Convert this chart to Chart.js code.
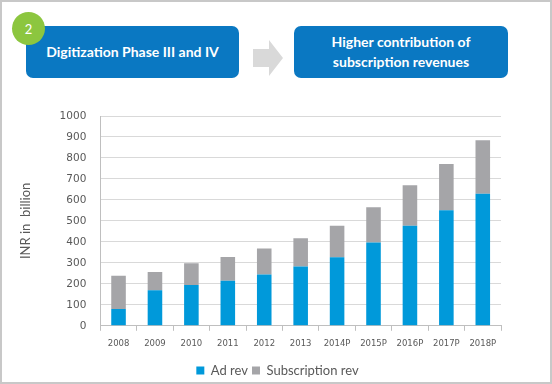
<!DOCTYPE html>
<html>
<head>
<meta charset="utf-8">
<script src="https://cdn.jsdelivr.net/npm/chart.js@4"></script>
<style>
  html, body { margin: 0; padding: 0; background: #fff; }
  #wrap {
    position: relative;
    width: 552px;
    height: 384px;
    box-sizing: border-box;
    border: 2px solid #c8c8c8;
    overflow: hidden;
    font-family: Lato, "Open Sans", sans-serif;
  }
  .box {
    position: absolute;
    top: 24px;
    height: 52px;
    background: #0a78c2;
    border-radius: 7px;
    color: #fff;
    font-weight: bold;
    font-size: 14px;
    display: flex;
    align-items: center;
    justify-content: center;
    text-align: center;
    line-height: 20px;
  }
  #box1 { left: 24px; width: 213px; }
  #box2 { left: 292px; width: 214px; }
  #badge {
    position: absolute;
    left: 10px;
    top: 10px;
    width: 33px;
    height: 33px;
    border-radius: 50%;
    background: #8cc63f;
    color: #fff;
    font-size: 13px;
    display: flex;
    align-items: center;
    justify-content: center;
  }
  #arrow {
    position: absolute;
    left: 251px;
    top: 38px;
  }
  canvas { position: absolute; left: -2px; top: -2px; }
</style>
</head>
<body>
<div id="wrap">
  <div class="box" id="box1">Digitization Phase III and IV</div>
  <div id="badge">2</div>
  <svg id="arrow" width="32" height="36">
    <polygon points="0,9 16,9 16,0 30,18 16,36 16,27 0,27" fill="#d9d9d9"/>
  </svg>
  <div class="box" id="box2">Higher contribution of<br>subscription revenues</div>
  <canvas id="chart" width="552" height="384"></canvas>
</div>
<script>
const years = ["2008", "2009", "2010", "2011", "2012", "2013", "2014P", "2015P", "2016P", "2017P", "2018P"];
const adRev = [80, 169, 194, 215, 245, 283, 327, 397, 477, 551, 630];
const subscriptionRev = [158, 87, 104, 113, 123, 134, 150, 168, 193, 220, 255];
const yTicks = [0, 100, 200, 300, 400, 500, 600, 700, 800, 900, 1000];

const ctx = document.getElementById("chart").getContext("2d");

// nudge the legend right/down to sit under the plot like the original
const legendShift = {
    id: "legendShift",
    afterLayout: function (chart) {
        const lg = chart.legend;
        lg.left += 18;
        lg.right += 18;
        lg.top += 3;
        lg.bottom += 3;
    }
};

new Chart(ctx, {
    type: "bar",
    data: {
        labels: years,
        datasets: [{
            label: "Ad rev",
            data: adRev,
            backgroundColor: "#0099da",
            barPercentage: 0.4,
            categoryPercentage: 1
        }, {
            label: "Subscription rev",
            data: subscriptionRev,
            backgroundColor: "#a5a5a8",
            barPercentage: 0.4,
            categoryPercentage: 1
        }]
    },
    options: {
        responsive: false,
        animation: false,
        layout: {
            padding: { top: 116, left: 18, right: 51, bottom: 0 }
        },
        plugins: {
            legend: {
                position: "bottom",
                labels: {
                    boxWidth: 8,
                    boxHeight: 8,
                    padding: 4,
                    color: "#595959",
                    font: { family: "Lato", size: 13 }
                }
            },
            tooltip: { enabled: false }
        },
        scales: {
            x: {
                stacked: true,
                grid: {
                    offset: true,
                    drawOnChartArea: false,
                    tickLength: 5,
                    color: "#bfbfbf"
                },
                border: { color: "#bfbfbf" },
                ticks: {
                    color: "#595959",
                    font: { family: "DejaVu Sans", size: 8.5 },
                    maxRotation: 0,
                    autoSkip: false,
                    padding: 8
                }
            },
            y: {
                stacked: true,
                min: 0,
                max: 1000,
                afterBuildTicks: function (axis) {
                    axis.ticks = yTicks.map(function (v) { return { value: v }; });
                },
                grid: {
                    color: "#d9d9d9",
                    tickLength: 0
                },
                border: { color: "#bfbfbf" },
                ticks: {
                    color: "#595959",
                    font: { family: "DejaVu Sans", size: 10.5 },
                    padding: 14,
                    callback: function (value) {
                        return String(value);
                    }
                },
                title: {
                    display: true,
                    text: "INR in  billion",
                    color: "#595959",
                    font: { family: "Lato", size: 13 },
                    padding: { top: 0, bottom: 12 }
                }
            }
        }
    },
    plugins: [legendShift]
});
</script>
</body>
</html>
